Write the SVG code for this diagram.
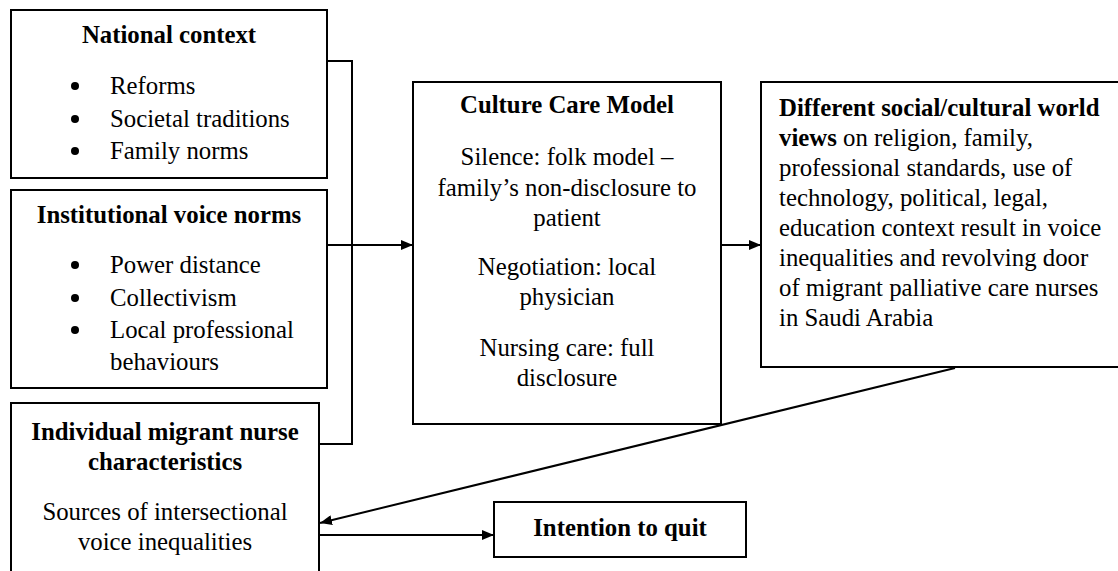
<svg xmlns="http://www.w3.org/2000/svg" width="1118" height="571" viewBox="0 0 1118 571">
<style>
.box{fill:#fff;stroke:#000;stroke-width:2}
.t{font-family:"Liberation Serif","Times New Roman",serif;font-size:24.8px;fill:#000}
.b{font-weight:bold}
.c{text-anchor:middle}
.ln{fill:none;stroke:#000;stroke-width:2}
</style>
<defs>
<marker id="ah" viewBox="0 0 12 10" refX="12" refY="5" markerWidth="12" markerHeight="10" markerUnits="userSpaceOnUse" orient="auto">
<path d="M0,0 L12,5 L0,10 Z" fill="#000"/>
</marker>
</defs>
<rect width="1118" height="571" fill="#fff"/>
<g id="connectors">
<polyline class="ln" points="327,61 352,61 352,444 319,444"/>
<line class="ln" x1="327" y1="245" x2="413" y2="245" marker-end="url(#ah)"/>
<line class="ln" x1="721" y1="245" x2="761" y2="245" marker-end="url(#ah)"/>
<line class="ln" x1="955" y1="368" x2="320" y2="523" marker-end="url(#ah)"/>
<line class="ln" x1="319" y1="535" x2="494" y2="535" marker-end="url(#ah)"/>
</g>
<g id="national">
<rect class="box" x="11" y="10" width="316" height="168"/>
<text class="t b c" x="169" y="43">National context</text>
<circle cx="75" cy="86" r="4"/><text class="t" x="110" y="94">Reforms</text>
<circle cx="75" cy="119" r="4"/><text class="t" x="110" y="127">Societal traditions</text>
<circle cx="75" cy="151" r="4"/><text class="t" x="110" y="159">Family norms</text>
</g>
<g id="institutional">
<rect class="box" x="11" y="190" width="316" height="198"/>
<text class="t b c" x="169" y="223">Institutional voice norms</text>
<circle cx="75" cy="265" r="4"/><text class="t" x="110" y="273">Power distance</text>
<circle cx="75" cy="298" r="4"/><text class="t" x="110" y="306">Collectivism</text>
<circle cx="75" cy="330" r="4"/><text class="t" x="110" y="338">Local professional</text>
<text class="t" x="110" y="370">behaviours</text>
</g>
<g id="individual">
<rect class="box" x="11" y="403" width="308" height="190"/>
<text class="t b c" x="165" y="440">Individual migrant nurse</text>
<text class="t b c" x="165" y="470">characteristics</text>
<text class="t c" x="165" y="520">Sources of intersectional</text>
<text class="t c" x="165" y="550">voice inequalities</text>
</g>
<g id="culture">
<rect class="box" x="413" y="82" width="308" height="342"/>
<text class="t b c" x="567" y="113">Culture Care Model</text>
<text class="t c" x="567" y="165">Silence: folk model –</text>
<text class="t c" x="567" y="196">family’s non-disclosure to</text>
<text class="t c" x="567" y="226">patient</text>
<text class="t c" x="567" y="275">Negotiation: local</text>
<text class="t c" x="567" y="305">physician</text>
<text class="t c" x="567" y="356">Nursing care: full</text>
<text class="t c" x="567" y="386">disclosure</text>
</g>
<g id="worldviews">
<rect class="box" x="761" y="82" width="370" height="285"/>
<text class="t b" x="779" y="116">Different social/cultural world</text>
<text class="t" x="779" y="146"><tspan class="b">views</tspan> on religion, family,</text>
<text class="t" x="779" y="176">professional standards, use of</text>
<text class="t" x="779" y="206">technology, political, legal,</text>
<text class="t" x="779" y="236">education context result in voice</text>
<text class="t" x="779" y="266">inequalities and revolving door</text>
<text class="t" x="779" y="296">of migrant palliative care nurses</text>
<text class="t" x="779" y="326">in Saudi Arabia</text>
</g>
<g id="quit">
<rect class="box" x="494" y="502" width="252" height="55"/>
<text class="t b c" x="620" y="536">Intention to quit</text>
</g>
</svg>
